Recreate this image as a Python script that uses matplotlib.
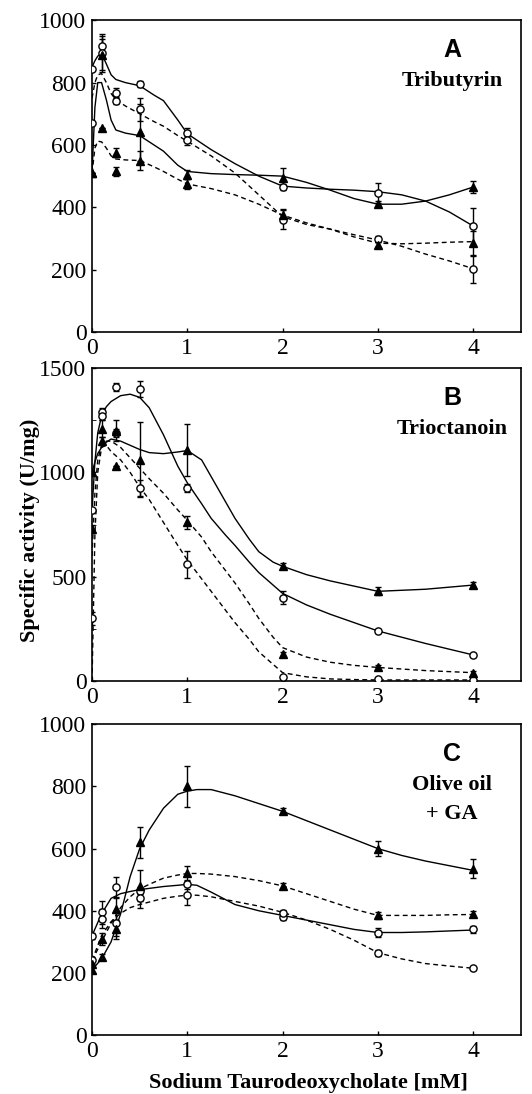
import numpy as np
import matplotlib
matplotlib.use("Agg")
import matplotlib.pyplot as plt

# ------------------------------------------------------------
# data
# ------------------------------------------------------------
x_pts = [0, 0.1, 0.25, 0.5, 1, 2, 3, 4]

# panel A : Tributyrin
a_sc = [845, 918, 768, 795, 638, 465, 446, 339]
a_sc_err = [0, 30, 15, 10, 15, 10, 32, 60]
a_dc = [670, 895, 740, 715, 615, 360, 298, 203]
a_dc_err = [0, 60, 10, 37, 15, 30, 10, 45]
a_st = [510, 890, 575, 640, 505, 495, 410, 465]
a_st_err = [0, 50, 15, 90, 15, 30, 10, 20]
a_dt = [510, 655, 515, 550, 475, 375, 280, 285]
a_dt_err = [0, 0, 15, 30, 15, 20, 10, 40]

a_cx = [0, 0.03, 0.06, 0.1, 0.15, 0.2, 0.25, 0.35, 0.5, 0.65, 0.75, 0.9, 1, 1.25,
        1.5, 1.75, 2, 2.25, 2.5, 2.75, 3, 3.25, 3.5, 3.75, 4]
a_sc_fit = [850, 870, 885, 893, 860, 825, 810, 800, 790, 760, 742, 680, 636, 585,
            540, 500, 468, 462, 458, 455, 450, 440, 420, 385, 340]
a_dc_fit = [750, 800, 825, 829, 800, 765, 745, 725, 700, 675, 660, 630, 612, 565,
            510, 440, 370, 345, 330, 312, 295, 275, 250, 228, 203]
a_st_fit = [510, 720, 800, 800, 745, 680, 648, 638, 630, 600, 580, 535, 515, 508,
            505, 503, 500, 480, 455, 428, 410, 410, 420, 440, 465]
a_dt_fit = [510, 590, 612, 610, 590, 565, 555, 552, 550, 530, 515, 490, 475, 460,
            440, 410, 375, 350, 330, 305, 285, 283, 285, 288, 290]

# panel B : Trioctanoin
b_sc = [820, 1290, 1410, 1400, 925, 400, 240, 125]
b_sc_err = [0, 20, 20, 40, 20, 30, 10, 10]
b_dc = [300, 1270, 1190, 925, 560, 20, 10, 5]
b_dc_err = [30, 20, 20, 40, 65, 5, 5, 5]
b_st = [1000, 1150, 1200, 1060, 1108, 550, 430, 460]
b_st_err = [0, 20, 50, 180, 125, 15, 20, 15]
b_dt = [730, 1210, 1030, np.nan, 760, 130, 65, 40]
b_dt_err = [20, 40, 0, 0, 30, 10, 10, 10]

b_cx = [0, 0.03, 0.06, 0.1, 0.15, 0.2, 0.3, 0.4, 0.5, 0.6, 0.75, 0.9, 1, 1.15,
        1.25, 1.4, 1.5, 1.65, 1.75, 1.9, 2, 2.25, 2.5, 2.75, 3, 3.5, 4]
b_sc_fit = [820, 1050, 1190, 1270, 1315, 1340, 1368, 1375, 1360, 1310, 1180, 1030,
            950, 850, 780, 700, 650, 570, 520, 460, 420, 365, 320, 280, 240, 180, 125]
b_st_fit = [1000, 1050, 1090, 1120, 1145, 1160, 1150, 1130, 1110, 1095, 1090, 1098,
            1105, 1060, 980, 860, 780, 680, 620, 570, 550, 510, 480, 455, 430, 440, 460]
b_dt_fit = [600, 900, 1060, 1130, 1150, 1150, 1120, 1070, 1020, 970, 900, 820,
            770, 690, 620, 530, 470, 370, 300, 210, 160, 115, 90, 75, 65, 50, 40]
b_dc_fit = [0, 700, 1000, 1120, 1130, 1100, 1060, 1000, 930, 870, 760, 650,
            580, 490, 430, 340, 280, 200, 140, 80, 40, 20, 10, 7, 5, 5, 5]

# panel C : Olive oil + GA
c_sc = [320, 395, 475, 465, 485, 380, 330, 340]
c_sc_err = [10, 38, 35, 10, 15, 10, 15, 10]
c_dc = [240, 375, 360, 440, 450, 393, 265, 215]
c_dc_err = [10, 30, 40, 30, 30, 10, 10, 5]
c_st = [210, 250, 340, 620, 800, 720, 600, 535]
c_st_err = [10, 10, 30, 50, 66, 10, 25, 30]
c_dt = [230, 310, 405, 480, 520, 480, 385, 390]
c_dt_err = [10, 20, 40, 50, 25, 10, 10, 10]

c_cx = [0, 0.1, 0.2, 0.3, 0.4, 0.5, 0.6, 0.75, 0.9, 1, 1.1, 1.25, 1.5, 1.75,
        2, 2.25, 2.5, 2.75, 3, 3.25, 3.5, 3.75, 4]
c_st_fit = [210, 245, 300, 390, 510, 600, 660, 730, 775, 785, 790, 790, 770, 745,
            720, 690, 660, 630, 600, 578, 560, 545, 530]
c_sc_fit = [320, 390, 440, 455, 462, 468, 472, 478, 482, 485, 482, 460, 420, 400,
            385, 370, 355, 340, 330, 330, 332, 335, 338]
c_dt_fit = [240, 300, 360, 410, 445, 470, 485, 505, 515, 520, 520, 518, 510, 497,
            480, 455, 430, 405, 385, 385, 385, 387, 388]
c_dc_fit = [240, 320, 365, 392, 410, 420, 428, 440, 447, 450, 450, 445, 430, 415,
            395, 370, 340, 305, 265, 245, 230, 222, 215]

panels = [
    dict(letter="A", names=["Tributyrin"], ymax=1000, ystep=200, minor=None,
         pts=[(a_sc, a_sc_err, "o"), (a_dc, a_dc_err, "o"),
              (a_st, a_st_err, "^"), (a_dt, a_dt_err, "^")],
         cx=a_cx, fits=[(a_sc_fit, "-"), (a_dc_fit, "--"), (a_st_fit, "-"), (a_dt_fit, "--")]),
    dict(letter="B", names=["Trioctanoin"], ymax=1500, ystep=500, minor=250,
         pts=[(b_sc, b_sc_err, "o"), (b_dc, b_dc_err, "o"),
              (b_st, b_st_err, "^"), (b_dt, b_dt_err, "^")],
         cx=b_cx, fits=[(b_sc_fit, "-"), (b_dc_fit, "--"), (b_st_fit, "-"), (b_dt_fit, "--")]),
    dict(letter="C", names=["Olive oil", "+ GA"], ymax=1000, ystep=200, minor=None,
         pts=[(c_sc, c_sc_err, "o"), (c_dc, c_dc_err, "o"),
              (c_st, c_st_err, "^"), (c_dt, c_dt_err, "^")],
         cx=c_cx, fits=[(c_sc_fit, "-"), (c_dc_fit, "--"), (c_st_fit, "-"), (c_dt_fit, "--")]),
]

# ------------------------------------------------------------
# figure
# ------------------------------------------------------------
fig = plt.figure(figsize=(5.32, 10.94), dpi=100)
serif = "Liberation Serif"
sans = "Liberation Sans"

boxes = [(0.173, 0.6965, 0.806, 0.285),
         (0.173, 0.3775, 0.806, 0.286),
         (0.173, 0.0539, 0.806, 0.284)]

for box, p in zip(boxes, panels):
    ax = fig.add_axes(box)

    for fit, ls in p["fits"]:
        if ls == "--":
            ax.plot(p["cx"], fit, color="black", lw=1.0, ls="--", dashes=(3.5, 2.5), zorder=2)
        else:
            ax.plot(p["cx"], fit, color="black", lw=1.0, ls="-", zorder=2)

    for vals, err, mk in p["pts"]:
        face = "white" if mk == "o" else "black"
        ax.errorbar(x_pts, vals, yerr=err, fmt=mk, ms=5.2 if mk == "o" else 5.8,
                    mfc=face, mec="black", mew=1.0, ecolor="black",
                    elinewidth=1.0, capsize=2.5, capthick=1.0, zorder=3)

    ax.set_xlim(0, 4.5)
    ax.set_ylim(0, p["ymax"])
    ax.set_xticks([0, 1, 2, 3, 4])
    ax.set_yticks(np.arange(0, p["ymax"] + 1, p["ystep"]))
    if p["minor"]:
        ax.set_yticks(np.arange(0, p["ymax"] + 1, p["minor"]), minor=True)
        ax.tick_params(axis="y", which="minor", direction="in", length=3)
    ax.tick_params(direction="in", length=3, width=1.0, labelsize=17, pad=4)
    for lab in ax.get_xticklabels() + ax.get_yticklabels():
        lab.set_fontfamily(serif)
    for sp in ax.spines.values():
        sp.set_linewidth(1.2)

    ax.text(0.84, 0.905, p["letter"], transform=ax.transAxes, ha="center",
            va="center", fontsize=18, fontweight="bold", fontfamily=sans)
    for i, name in enumerate(p["names"]):
        ax.text(0.84, 0.805 - i * 0.095, name, transform=ax.transAxes,
                ha="center", va="center", fontsize=16, fontweight="bold",
                fontfamily=serif)

fig.text(0.056, 0.5155, "Specific activity (U/mg)", rotation=90, ha="center",
         va="center", fontsize=16, fontweight="bold", fontfamily=serif)
fig.text(0.58, 0.01, "Sodium Taurodeoxycholate [mM]", ha="center",
         va="center", fontsize=16, fontweight="bold", fontfamily=serif)

fig.savefig("out.png", dpi=100)
